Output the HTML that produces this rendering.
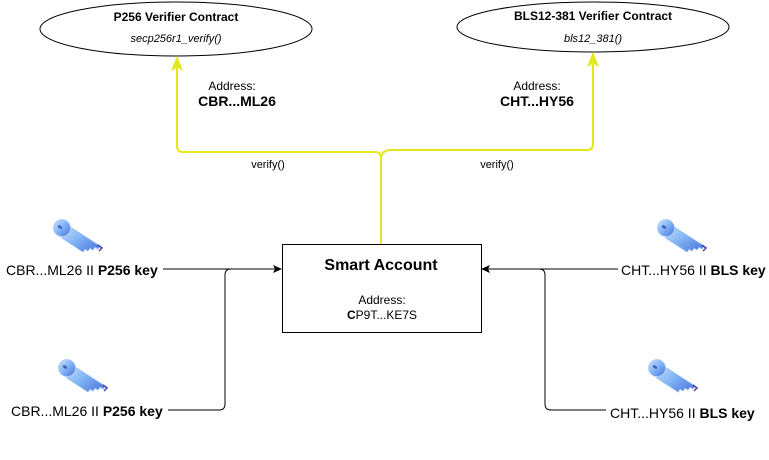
<!DOCTYPE html>
<html><head><meta charset="utf-8"><style>
html,body{margin:0;padding:0;background:#fff;}
svg{display:block;}
text{font-family:"Liberation Sans",Arial,sans-serif;fill:#000;}
</style></head><body>
<svg width="769" height="460" viewBox="0 0 769 460" xmlns="http://www.w3.org/2000/svg">
<defs>
<linearGradient id="kg" x1="0" y1="0" x2="1" y2="1">
<stop offset="0" stop-color="#cfe4ff"/><stop offset="0.5" stop-color="#7fb3f5"/><stop offset="1" stop-color="#4a6fd8"/>
</linearGradient>
<g id="key">
<path d="M10 4 L48 28 L46 31 L43 29 L41 32 L38 30 L36 33 L33 31 L31 34 L10 20 Z" fill="url(#kg)" stroke="#8ab8f0" stroke-width="0.8"/>
<circle cx="10" cy="10" r="8.5" fill="url(#kg)" stroke="#a9cdf7" stroke-width="0.8"/>
<ellipse cx="8" cy="9" rx="2.4" ry="1.4" transform="rotate(35 8 9)" fill="#3f5fb8"/>
<path d="M46 27 L50 30 L47 33" fill="none" stroke="#4b40b0" stroke-width="1.5"/>
</g>
</defs>

<ellipse cx="176" cy="29" rx="136" ry="27" fill="#fff" stroke="#000" stroke-width="1"/>
<ellipse cx="593" cy="27" rx="136" ry="25" fill="#fff" stroke="#000" stroke-width="1"/>
<text x="176" y="21" font-size="12" font-weight="bold" text-anchor="middle">P256 Verifier Contract</text>
<text x="176" y="42" font-size="11" font-style="italic" text-anchor="middle">secp256r1_verify()</text>
<text x="593" y="20" font-size="12" font-weight="bold" text-anchor="middle">BLS12-381 Verifier Contract</text>
<text x="593" y="42" font-size="11" font-style="italic" text-anchor="middle">bls12_381()</text>

<g fill="none" stroke="#e2e81c" stroke-width="2">
<path d="M381 244 L381 158 Q381 152 375 152 L183 152 Q177 152 177 146 L177 68"/>
<path d="M381 160 Q381 150 391 150 L587 150 Q593 150 593 144 L593 64"/>
</g>
<path d="M177 57 L172 70 L177 67 L182 70 Z" fill="#e2e81c" stroke="#e2e81c"/>
<path d="M593 53 L588 66 L593 63 L598 66 Z" fill="#e2e81c" stroke="#e2e81c"/>

<text x="232" y="90" font-size="12" text-anchor="middle">Address:</text>
<text x="237" y="106" font-size="14" font-weight="bold" text-anchor="middle">CBR...ML26</text>
<text x="537" y="90" font-size="12" text-anchor="middle">Address:</text>
<text x="537" y="106" font-size="14" font-weight="bold" text-anchor="middle">CHT...HY56</text>
<text x="268" y="168" font-size="11" text-anchor="middle">verify()</text>
<text x="497" y="168" font-size="11" text-anchor="middle">verify()</text>

<rect x="282.5" y="244.5" width="199" height="88" fill="#fff" stroke="#000" stroke-width="1"/>
<text x="381" y="270" font-size="16" font-weight="bold" text-anchor="middle">Smart Account</text>
<text x="382" y="304" font-size="12" text-anchor="middle">Address:</text>
<text x="382" y="319" font-size="12" text-anchor="middle"><tspan font-weight="bold">C</tspan>P9T...KE7S</text>

<g fill="none" stroke="#000" stroke-width="1">
<path d="M163 269 L276 269"/>
<path d="M168 410 L219 410 Q225 410 225 404 L225 275 Q225 269 231 269 L276 269"/>
<path d="M618 269 L488 269"/>
<path d="M606 410 L551 410 Q545 410 545 404 L545 275 Q545 269 539 269 L488 269"/>
</g>
<path d="M282 269 L273 265 L275 269 L273 273 Z" fill="#000"/>
<path d="M481 269 L490 265 L488 269 L490 273 Z" fill="#000"/>

<use href="#key" x="52" y="218"/>
<use href="#key" x="57" y="358"/>
<use href="#key" x="656" y="218"/>
<use href="#key" x="647" y="358"/>

<text x="6" y="275" font-size="14">CBR...ML26 II <tspan font-weight="bold">P256 key</tspan></text>
<text x="11" y="416" font-size="14">CBR...ML26 II <tspan font-weight="bold">P256 key</tspan></text>
<text x="621" y="275" font-size="14">CHT...HY56 II <tspan font-weight="bold">BLS key</tspan></text>
<text x="610" y="418" font-size="14">CHT...HY56 II <tspan font-weight="bold">BLS key</tspan></text>
</svg>
</body></html>
